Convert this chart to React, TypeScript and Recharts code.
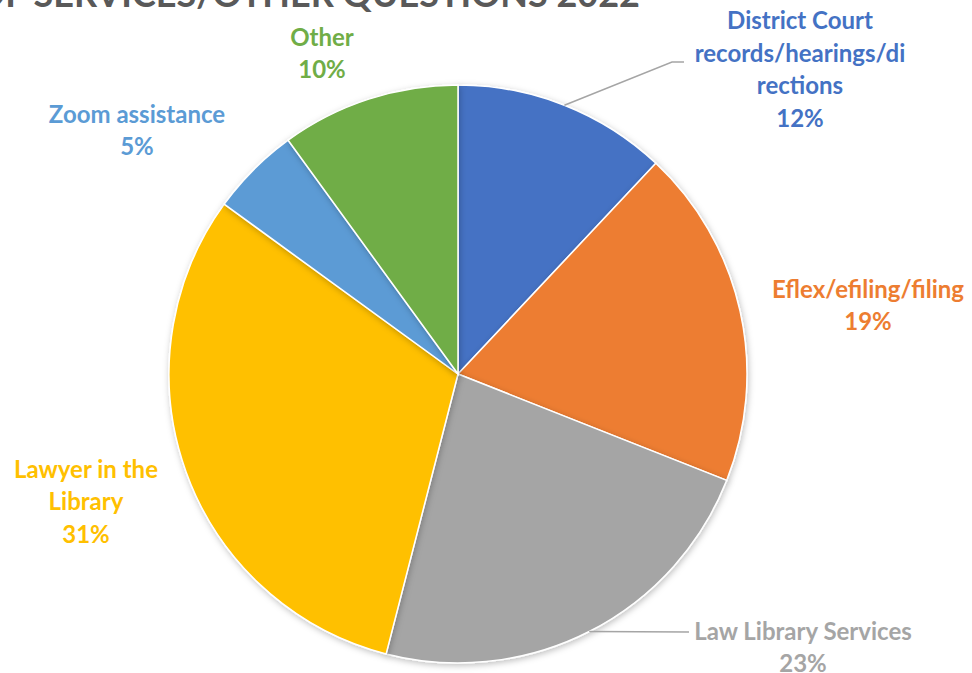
import React from 'react';
import { PieChart, Pie, Cell } from 'recharts';

const categories = [
    'District Court records/hearings/directions',
    'Eflex/efiling/filing',
    'Law Library Services',
    'Lawyer in the Library',
    'Zoom assistance',
    'Other',
];
const shares = [12, 19, 23, 31, 5, 10];
const colors = ['#4472C4', '#ED7D31', '#A5A5A5', '#FFC000', '#5B9BD5', '#70AD47'];

// label text lines (as wrapped in the original)
const labelLines = [
    ['District Court', 'records/hearings/di', 'rections'],
    ['Eflex/efiling/filing'],
    ['Law Library Services'],
    ['Lawyer in the', 'Library'],
    ['Zoom assistance'],
    ['Other'],
];

// label block centre, offset from the pie centre; leader = end of leader line relative to label centre
const labelPos: { dx: number; dy: number; leader?: { kx?: number; x: number; y: number } }[] = [
    { dx: 342, dy: -306, leader: { kx: -128, x: -116, y: -6 } },
    { dx: 410, dy: -70 },
    { dx: 345, dy: 272, leader: { x: -114, y: -14 } },
    { dx: -372, dy: 126 },
    { dx: -321, dy: -245 },
    { dx: -136, dy: -322 },
];

const data = categories.map((name, i) => ({ name, value: shares[i] }));

const FONT = 'Lato, "Open Sans", sans-serif';
const LINE_H = 32.5;

const renderLabel = (props: any) => {
    const { cx, cy, midAngle, outerRadius, index, value } = props;
    const pos = labelPos[index];
    const lines = [...labelLines[index], `${value}%`];
    const x = cx + pos.dx;
    const yc = cy + pos.dy;
    const top = yc - ((lines.length - 1) * LINE_H) / 2;
    const rad = (Math.PI / 180) * midAngle;
    const ex = cx + outerRadius * Math.cos(rad);
    const ey = cy - outerRadius * Math.sin(rad);
    let leader = null;
    if (pos.leader) {
        const l = pos.leader;
        const pts = [`${ex},${ey}`];
        if (l.kx !== undefined) pts.push(`${x + l.kx},${yc + l.y}`);
        pts.push(`${x + l.x},${yc + l.y}`);
        leader = (
            <polyline points={pts.join(' ')} fill="none" stroke="#A5A5A5" strokeWidth={1.5} />
        );
    }
    return (
        <g key={`lbl-${index}`}>
            {leader}
            <text
                x={x}
                y={top}
                textAnchor="middle"
                dominantBaseline="central"
                fill={colors[index]}
                fontFamily={FONT}
                fontWeight="bold"
                fontSize={24}
            >
                {lines.map((l, i) => (
                    <tspan key={i} x={x} dy={i === 0 ? 0 : LINE_H}>
                        {l}
                    </tspan>
                ))}
            </text>
        </g>
    );
};

export default function App() {
    return (
        <div style={{ position: 'absolute', left: 0, top: 0, width: 972, height: 673, background: '#fff' }}>
            <PieChart width={972} height={673} margin={{ top: 0, right: 0, bottom: 0, left: 0 }}>
                <defs>
                    <filter id="pieShadow" x="-10%" y="-10%" width="120%" height="120%">
                        <feDropShadow dx="1" dy="2" stdDeviation="3" floodColor="#000" floodOpacity="0.25" />
                    </filter>
                </defs>
                <text
                    x={640}
                    y={7}
                    textAnchor="end"
                    fill="#595959"
                    fontFamily={FONT}
                    fontWeight="bold"
                    fontSize={36}
                >
                    TYPES OF SERVICES/OTHER QUESTIONS 2022
                </text>
                <Pie
                    data={data}
                    dataKey="value"
                    nameKey="name"
                    cx={458}
                    cy={374}
                    outerRadius={289}
                    startAngle={90}
                    endAngle={-270}
                    stroke="#fff"
                    strokeWidth={1.5}
                    label={renderLabel}
                    labelLine={false}
                    isAnimationActive={false}
                    style={{ filter: 'url(#pieShadow)' }}
                >
                    {data.map((d, i) => (
                        <Cell key={d.name} fill={colors[i]} />
                    ))}
                </Pie>
            </PieChart>
        </div>
    );
}
